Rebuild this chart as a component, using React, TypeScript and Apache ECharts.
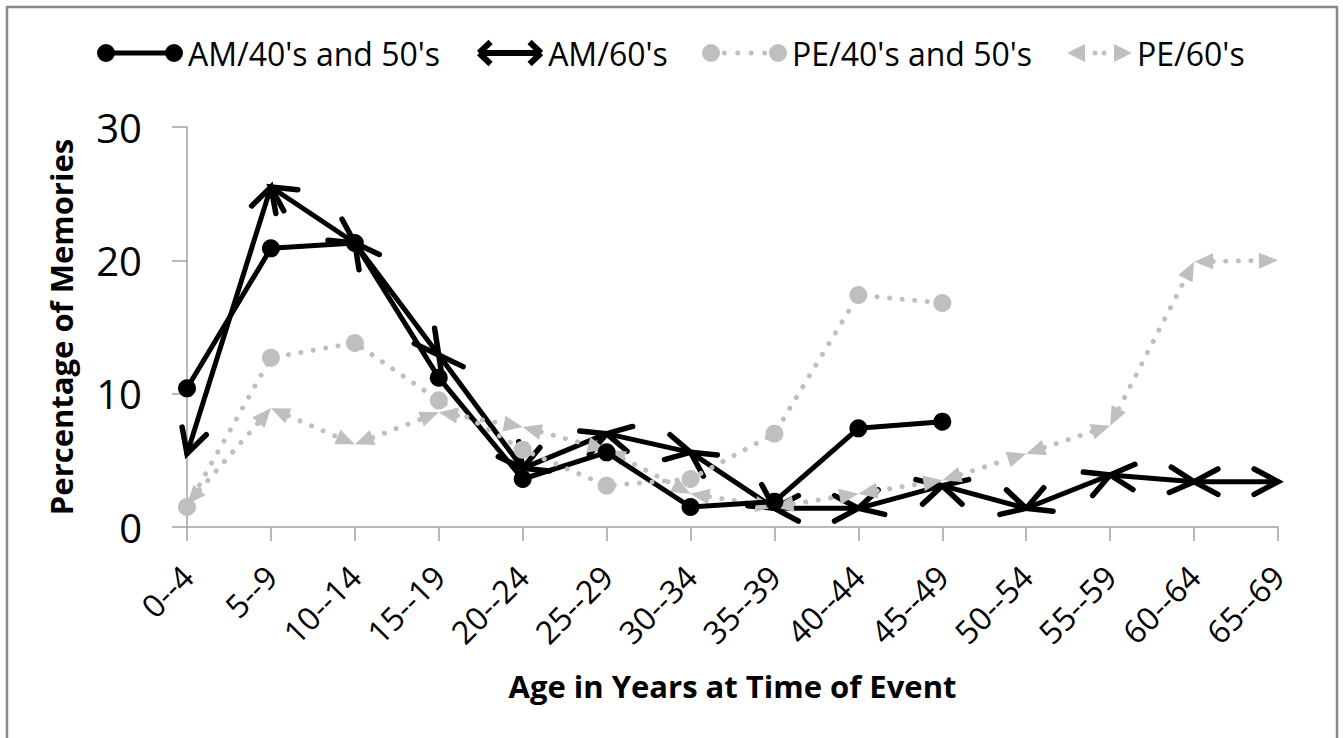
import React, { useEffect, useRef } from 'react';
import * as echarts from 'echarts';

const categories = ['0--4', '5--9', '10--14', '15--19', '20--24', '25--29', '30--34', '35--39', '40--44', '45--49', '50--54', '55--59', '60--64', '65--69'];
const amFortiesFifties: (number | null)[] = [10.4, 20.9, 21.3, 11.2, 3.6, 5.6, 1.5, 1.9, 7.4, 7.9, null, null, null, null];
const amSixties: (number | null)[] = [5.5, 25.5, 21.3, 12.9, 4.4, 7.0, 5.6, 1.4, 1.4, 3.1, 1.4, 3.9, 3.4, 3.4];
const peFortiesFifties: (number | null)[] = [1.5, 12.7, 13.8, 9.5, 5.8, 3.1, 3.6, 7.0, 17.4, 16.8, null, null, null, null];
const peSixties: (number | null)[] = [1.7, 8.9, 6.2, 8.6, 7.5, 5.8, 2.5, 1.5, 2.5, 3.5, 5.5, 7.6, 19.9, 20.0];
const seriesNames = ["AM/40's and 50's", "AM/60's", "PE/40's and 50's", "PE/60's"];
const yMin = 0;
const yMax = 30;
const yInterval = 10;
const xTitle = 'Age in Years at Time of Event';
const yTitle = 'Percentage of Memories';

const BLACK = '#000000';
const GRAY = '#bfbfbf';
const AXIS = '#a0a0a0';
const FONT = "'Open Sans', 'Noto Sans', sans-serif";

type Pt = [number, number];

function quad(p1: Pt, p2: Pt, t: number): Pt[] {
  const dx = p2[0] - p1[0];
  const dy = p2[1] - p1[1];
  const l = Math.hypot(dx, dy) || 1;
  const nx = (-dy / l) * (t / 2);
  const ny = (dx / l) * (t / 2);
  return [
    [p1[0] + nx, p1[1] + ny],
    [p2[0] + nx, p2[1] + ny],
    [p2[0] - nx, p2[1] - ny],
    [p1[0] - nx, p1[1] - ny],
  ];
}

function polyPath(pts: Pt[]): string {
  let area = 0;
  for (let i = 0; i < pts.length; i++) {
    const a = pts[i];
    const b = pts[(i + 1) % pts.length];
    area += a[0] * b[1] - b[0] * a[1];
  }
  const p = area < 0 ? pts.slice().reverse() : pts;
  return 'M' + p.map((q) => q[0].toFixed(2) + ',' + q[1].toFixed(2)).join('L') + 'Z';
}

function circlePath(cx: number, cy: number, r: number): string {
  return `M${cx - r},${cy}A${r},${r} 0 1,1 ${cx + r},${cy}A${r},${r} 0 1,1 ${cx - r},${cy}Z`;
}

function makeIcon(polys: Pt[][], circles: [number, number, number][]) {
  let minX = Infinity, minY = Infinity, maxX = -Infinity, maxY = -Infinity;
  const parts: string[] = [];
  polys.forEach((pl) => {
    pl.forEach((p) => {
      minX = Math.min(minX, p[0]); maxX = Math.max(maxX, p[0]);
      minY = Math.min(minY, p[1]); maxY = Math.max(maxY, p[1]);
    });
    parts.push(polyPath(pl));
  });
  circles.forEach(([cx, cy, r]) => {
    minX = Math.min(minX, cx - r); maxX = Math.max(maxX, cx + r);
    minY = Math.min(minY, cy - r); maxY = Math.max(maxY, cy + r);
    parts.push(circlePath(cx, cy, r));
  });
  return { path: 'path://' + parts.join(''), w: maxX - minX, h: maxY - minY };
}

const iconAM40 = makeIcon(
  [[[9, 6.5], [77, 6.5], [77, 11.5], [9, 11.5]]],
  [[9, 9, 9], [77, 9, 9]]
);
const iconAM60 = makeIcon(
  [
    quad([1.5, 12], [13, 1], 6),
    quad([1.5, 12], [13, 23], 6),
    quad([1.5, 12], [63.5, 12], 6),
    quad([63.5, 12], [52, 1], 6),
    quad([63.5, 12], [52, 23], 6),
  ],
  []
);
const iconPE40 = makeIcon([], [
  [9, 9, 9], [22.4, 9, 2.5], [35.8, 9, 2.5], [49.2, 9, 2.5], [62.6, 9, 2.5], [76, 9, 9],
]);
const iconPE60 = makeIcon(
  [
    [[0, 9], [18, 0], [18, 18]],
    [[65, 9], [47, 18], [47, 0]],
  ],
  [[28, 9, 2.5], [37, 9, 2.5]]
);

function arrowSeries(name: string, vals: (number | null)[], color: string, head: 'open' | 'tri', dotted: boolean) {
  return {
    type: 'custom',
    name,
    data: vals.map((v, i) => [i, v]),
    encode: { x: 0, y: 1 },
    itemStyle: { color },
    renderItem: (params: any, api: any) => {
      const i = params.dataIndex;
      const children: any[] = [];
      if (i > 0 && vals[i - 1] != null && vals[i] != null) {
        const a = api.coord([i - 1, vals[i - 1]]);
        const b = api.coord([i, vals[i]]);
        const dx = b[0] - a[0];
        const dy = b[1] - a[1];
        const len = Math.hypot(dx, dy) || 1;
        const ux = dx / len;
        const uy = dy / len;
        const lineStyle: any = {
          stroke: color,
          lineWidth: 5,
          lineCap: 'round',
          lineJoin: 'round',
          fill: 'none',
        };
        if (dotted) lineStyle.lineDash = [0.1, 12.5];
        if (head === 'open') {
          children.push({ type: 'line', shape: { x1: a[0], y1: a[1], x2: b[0], y2: b[1] }, style: lineStyle });
          const L = 27;
          const th = (28 * Math.PI) / 180;
          const heads: [number[], number, number][] = [[b, -ux, -uy], [a, ux, uy]];
          heads.forEach(([p, bx, by]) => {
            const c = Math.cos(th);
            const s = Math.sin(th);
            const r1 = [bx * c - by * s, bx * s + by * c];
            const r2 = [bx * c + by * s, -bx * s + by * c];
            children.push({
              type: 'polyline',
              shape: { points: [[p[0] + r1[0] * L, p[1] + r1[1] * L], [p[0], p[1]], [p[0] + r2[0] * L, p[1] + r2[1] * L]] },
              style: { stroke: color, lineWidth: 5.5, lineCap: 'round', lineJoin: 'miter', fill: 'none' },
            });
          });
        } else {
          const L = 19;
          const W = 8;
          children.push({
            type: 'line',
            shape: { x1: a[0] + ux * L, y1: a[1] + uy * L, x2: b[0] - ux * L, y2: b[1] - uy * L },
            style: lineStyle,
          });
          const heads: [number[], number, number][] = [[b, -ux, -uy], [a, ux, uy]];
          heads.forEach(([p, bx, by]) => {
            const px = -by;
            const py = bx;
            children.push({
              type: 'polygon',
              shape: {
                points: [
                  [p[0], p[1]],
                  [p[0] + bx * L + px * W, p[1] + by * L + py * W],
                  [p[0] + bx * L - px * W, p[1] + by * L - py * W],
                ],
              },
              style: { fill: color, stroke: 'none' },
            });
          });
        }
      }
      return { type: 'group', children };
    },
  };
}

export default function App() {
  const ref = useRef<HTMLDivElement>(null);
  useEffect(() => {
    if (!ref.current) return;
    const chart = echarts.init(ref.current, undefined, { renderer: 'svg' });
    const legendDefs = [
      { name: seriesNames[0], left: 97, icon: iconAM40 },
      { name: seriesNames[1], left: 477, icon: iconAM60 },
      { name: seriesNames[2], left: 702, icon: iconPE40 },
      { name: seriesNames[3], left: 1067, icon: iconPE60 },
    ];
    chart.setOption({
      animation: false,
      backgroundColor: '#ffffff',
      textStyle: { fontFamily: FONT },
      graphic: [
        {
          type: 'rect',
          silent: true,
          z: -10,
          shape: { x: 7, y: 7, width: 1330, height: 760 },
          style: { fill: 'none', stroke: '#898989', lineWidth: 2.5 },
        },
      ],
      legend: legendDefs.map((d) => ({
        data: [{ name: d.name, icon: d.icon.path }],
        left: d.left,
        top: 37,
        padding: 0,
        itemGap: 0,
        itemWidth: d.icon.w,
        itemHeight: d.icon.h,
        selectedMode: false,
        itemStyle: { borderWidth: 0 },
        textStyle: { fontSize: 32, color: '#000', fontFamily: FONT },
      })),
      grid: { left: 187, right: 65, top: 127, bottom: 211, containLabel: false },
      xAxis: {
        type: 'category',
        data: categories,
        boundaryGap: false,
        axisLine: { lineStyle: { color: AXIS, width: 1.5 } },
        axisTick: { show: true, length: 14, interval: 0, lineStyle: { color: AXIS, width: 1.5 } },
        axisLabel: { rotate: 45, interval: 0, fontSize: 32, color: '#000', margin: 44, fontFamily: FONT },
        splitLine: { show: false },
        name: xTitle,
        nameLocation: 'middle',
        nameGap: 143,
        nameTextStyle: { fontSize: 31, fontWeight: 'bold', color: '#000', fontFamily: FONT },
      },
      yAxis: {
        type: 'value',
        min: yMin,
        max: yMax,
        interval: yInterval,
        axisLine: { show: true, lineStyle: { color: AXIS, width: 1.5 } },
        axisTick: { show: true, length: 15, lineStyle: { color: AXIS, width: 1.5 } },
        axisLabel: { fontSize: 40, color: '#000', margin: 45, fontFamily: FONT },
        splitLine: { show: false },
        name: yTitle,
        nameLocation: 'middle',
        nameRotate: 90,
        nameGap: 111,
        nameTextStyle: { fontSize: 31, fontWeight: 'bold', color: '#000', fontFamily: FONT },
      },
      series: [
        {
          type: 'line',
          name: seriesNames[0],
          data: amFortiesFifties,
          symbol: 'circle',
          symbolSize: 18,
          showSymbol: true,
          connectNulls: false,
          itemStyle: { color: BLACK },
          lineStyle: { color: BLACK, width: 5 },
        },
        arrowSeries(seriesNames[1], amSixties, BLACK, 'open', false),
        {
          type: 'line',
          name: seriesNames[2],
          data: peFortiesFifties,
          symbol: 'circle',
          symbolSize: 18,
          showSymbol: true,
          connectNulls: false,
          itemStyle: { color: GRAY },
          lineStyle: { color: GRAY, width: 5, type: [0.1, 12.5], cap: 'round' },
        },
        arrowSeries(seriesNames[3], peSixties, GRAY, 'tri', true),
      ],
    });
    return () => chart.dispose();
  }, []);
  return <div ref={ref} style={{ position: 'absolute', left: 0, top: 0, width: 1343, height: 738 }} />;
}
